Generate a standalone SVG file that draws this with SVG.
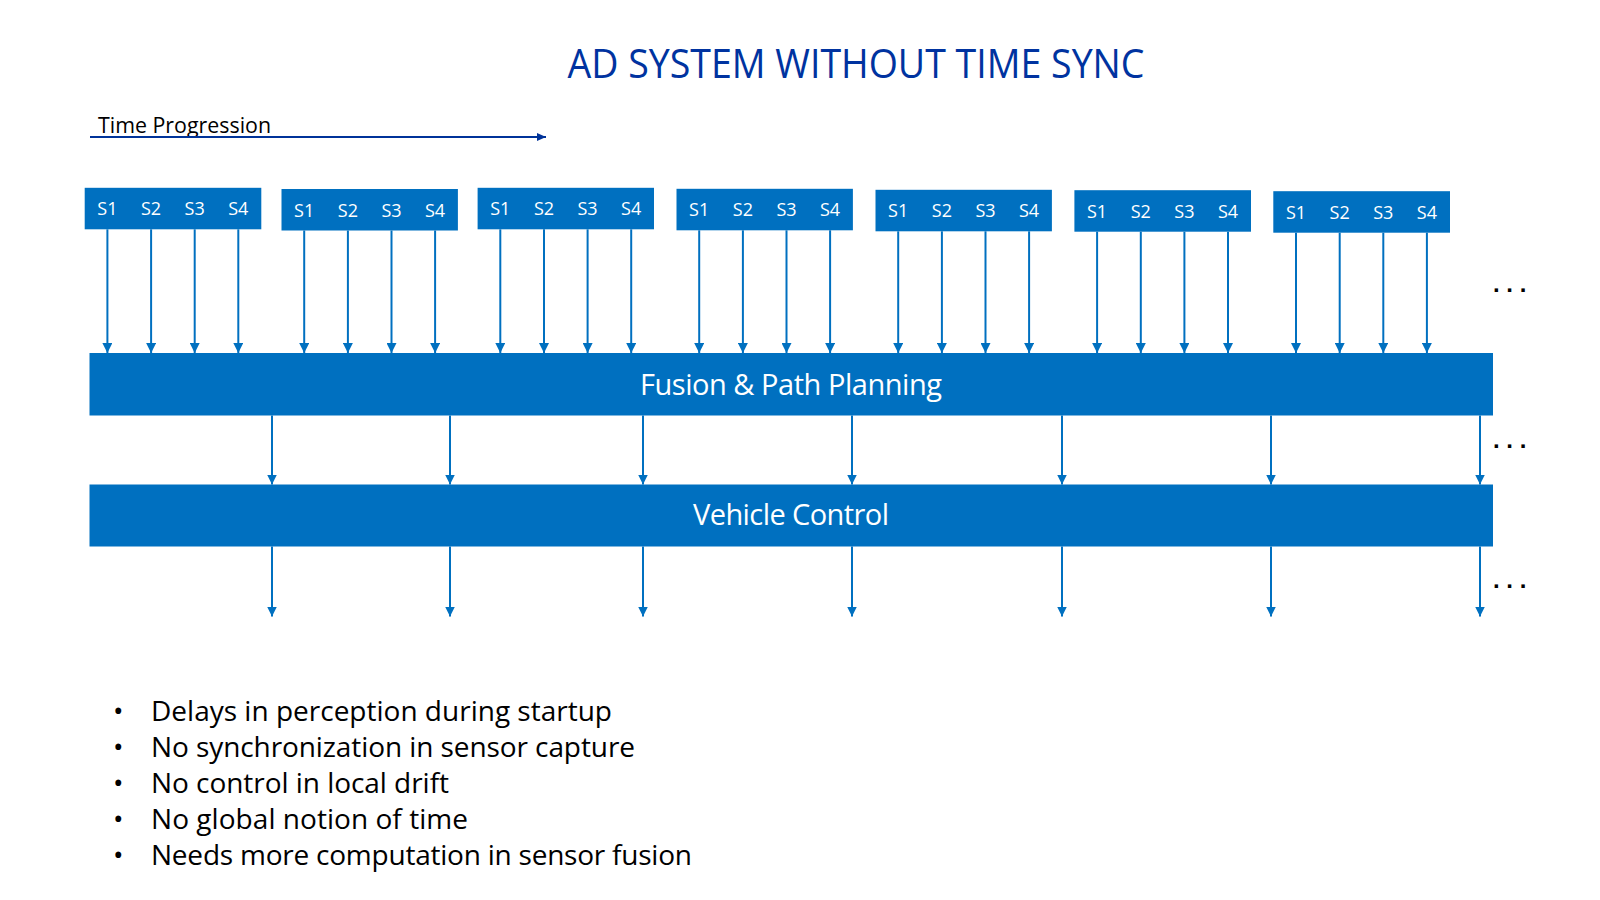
<svg xmlns="http://www.w3.org/2000/svg" width="1600" height="900" viewBox="0 0 1600 900">
<defs>
<marker id="ah" markerUnits="userSpaceOnUse" markerWidth="10" markerHeight="10" refX="10" refY="5" orient="auto">
<path d="M0,0 L10,5 L0,10 z" fill="#0070C0"/>
</marker>
<marker id="ahd" markerUnits="userSpaceOnUse" markerWidth="9" markerHeight="8" refX="9" refY="4" orient="auto">
<path d="M0,0 L9,4 L0,8 z" fill="#003399"/>
</marker>
<style>
.box{fill:#0070C0;}
.s{font-family:"Open Sans","Liberation Sans",sans-serif;font-size:18px;fill:#fff;text-anchor:middle;}
.big{font-family:"Open Sans","Liberation Sans",sans-serif;font-size:29px;fill:#fff;text-anchor:middle;}
.con{stroke:#0070C0;stroke-width:2;fill:none;marker-end:url(#ah);}
.bul{font-family:"Open Sans","Liberation Sans",sans-serif;font-size:28px;fill:#000;}
.dots{font-family:"Liberation Sans",sans-serif;font-size:24px;font-weight:bold;fill:#000;}
</style>
</defs>
<rect width="1600" height="900" fill="#fff"/>

<g id="title">
<text x="856" y="78" font-family="'Open Sans','Liberation Sans',sans-serif" font-size="41" fill="#0033A0" text-anchor="middle" textLength="577" lengthAdjust="spacingAndGlyphs">AD SYSTEM WITHOUT TIME SYNC</text>
</g>

<g id="time-progression">
<text x="98" y="133" font-family="'Open Sans','Liberation Sans',sans-serif" font-size="21" fill="#000" textLength="173" lengthAdjust="spacingAndGlyphs">Time Progression</text>
<line x1="90" y1="137" x2="546" y2="137" stroke="#003399" stroke-width="2" marker-end="url(#ahd)"/>
</g>

<g id="sensors-1">
<rect class="box" x="84.7" y="187.8" width="176.6" height="41.5"/>
<text class="s" x="107.4" y="215.3">S1</text><text class="s" x="151.1" y="215.3">S2</text><text class="s" x="194.7" y="215.3">S3</text><text class="s" x="238.3" y="215.3">S4</text>
</g>
<g id="sensors-2">
<rect class="box" x="281.5" y="189" width="176.4" height="41.5"/>
<text class="s" x="304.2" y="216.5">S1</text><text class="s" x="347.9" y="216.5">S2</text><text class="s" x="391.5" y="216.5">S3</text><text class="s" x="435.1" y="216.5">S4</text>
</g>
<g id="sensors-3">
<rect class="box" x="477.6" y="187.8" width="176.4" height="41.5"/>
<text class="s" x="500.3" y="215.3">S1</text><text class="s" x="544" y="215.3">S2</text><text class="s" x="587.6" y="215.3">S3</text><text class="s" x="631.2" y="215.3">S4</text>
</g>
<g id="sensors-4">
<rect class="box" x="676.5" y="188.8" width="176.4" height="41.5"/>
<text class="s" x="699.2" y="216.3">S1</text><text class="s" x="742.9" y="216.3">S2</text><text class="s" x="786.5" y="216.3">S3</text><text class="s" x="830.1" y="216.3">S4</text>
</g>
<g id="sensors-5">
<rect class="box" x="875.5" y="189.8" width="176.4" height="41.5"/>
<text class="s" x="898.2" y="217.3">S1</text><text class="s" x="941.9" y="217.3">S2</text><text class="s" x="985.5" y="217.3">S3</text><text class="s" x="1029.1" y="217.3">S4</text>
</g>
<g id="sensors-6">
<rect class="box" x="1074.4" y="190.2" width="176.6" height="41.5"/>
<text class="s" x="1097.1" y="217.7">S1</text><text class="s" x="1140.8" y="217.7">S2</text><text class="s" x="1184.4" y="217.7">S3</text><text class="s" x="1228" y="217.7">S4</text>
</g>
<g id="sensors-7">
<rect class="box" x="1273.3" y="191.2" width="176.7" height="41.5"/>
<text class="s" x="1296" y="218.7">S1</text><text class="s" x="1339.7" y="218.7">S2</text><text class="s" x="1383.3" y="218.7">S3</text><text class="s" x="1426.9" y="218.7">S4</text>
</g>

<g id="fusion">
<rect class="box" x="89.5" y="353" width="1403.5" height="62.5"/>
<text class="big" x="791" y="395" textLength="302">Fusion &amp; Path Planning</text>
</g>

<g id="vehicle-control">
<rect class="box" x="89.5" y="484.5" width="1403.5" height="62"/>
<text class="big" x="791" y="525" textLength="196">Vehicle Control</text>
</g>

<g id="connectors">
<line class="con" x1="107.4" y1="229.3" x2="107.4" y2="353"/>
<line class="con" x1="151.1" y1="229.3" x2="151.1" y2="353"/>
<line class="con" x1="194.7" y1="229.3" x2="194.7" y2="353"/>
<line class="con" x1="238.3" y1="229.3" x2="238.3" y2="353"/>
<line class="con" x1="304.2" y1="230.5" x2="304.2" y2="353"/>
<line class="con" x1="347.9" y1="230.5" x2="347.9" y2="353"/>
<line class="con" x1="391.5" y1="230.5" x2="391.5" y2="353"/>
<line class="con" x1="435.1" y1="230.5" x2="435.1" y2="353"/>
<line class="con" x1="500.3" y1="229.3" x2="500.3" y2="353"/>
<line class="con" x1="544" y1="229.3" x2="544" y2="353"/>
<line class="con" x1="587.6" y1="229.3" x2="587.6" y2="353"/>
<line class="con" x1="631.2" y1="229.3" x2="631.2" y2="353"/>
<line class="con" x1="699.2" y1="230.3" x2="699.2" y2="353"/>
<line class="con" x1="742.9" y1="230.3" x2="742.9" y2="353"/>
<line class="con" x1="786.5" y1="230.3" x2="786.5" y2="353"/>
<line class="con" x1="830.1" y1="230.3" x2="830.1" y2="353"/>
<line class="con" x1="898.2" y1="231.3" x2="898.2" y2="353"/>
<line class="con" x1="941.9" y1="231.3" x2="941.9" y2="353"/>
<line class="con" x1="985.5" y1="231.3" x2="985.5" y2="353"/>
<line class="con" x1="1029.1" y1="231.3" x2="1029.1" y2="353"/>
<line class="con" x1="1097.1" y1="231.7" x2="1097.1" y2="353"/>
<line class="con" x1="1140.8" y1="231.7" x2="1140.8" y2="353"/>
<line class="con" x1="1184.4" y1="231.7" x2="1184.4" y2="353"/>
<line class="con" x1="1228" y1="231.7" x2="1228" y2="353"/>
<line class="con" x1="1296" y1="232.7" x2="1296" y2="353"/>
<line class="con" x1="1339.7" y1="232.7" x2="1339.7" y2="353"/>
<line class="con" x1="1383.3" y1="232.7" x2="1383.3" y2="353"/>
<line class="con" x1="1426.9" y1="232.7" x2="1426.9" y2="353"/>

<line class="con" x1="272" y1="415.5" x2="272" y2="484.5"/>
<line class="con" x1="450" y1="415.5" x2="450" y2="484.5"/>
<line class="con" x1="643" y1="415.5" x2="643" y2="484.5"/>
<line class="con" x1="852" y1="415.5" x2="852" y2="484.5"/>
<line class="con" x1="1062" y1="415.5" x2="1062" y2="484.5"/>
<line class="con" x1="1271" y1="415.5" x2="1271" y2="484.5"/>
<line class="con" x1="1480" y1="415.5" x2="1480" y2="484.5"/>

<line class="con" x1="272" y1="546.5" x2="272" y2="616.5"/>
<line class="con" x1="450" y1="546.5" x2="450" y2="616.5"/>
<line class="con" x1="643" y1="546.5" x2="643" y2="616.5"/>
<line class="con" x1="852" y1="546.5" x2="852" y2="616.5"/>
<line class="con" x1="1062" y1="546.5" x2="1062" y2="616.5"/>
<line class="con" x1="1271" y1="546.5" x2="1271" y2="616.5"/>
<line class="con" x1="1480" y1="546.5" x2="1480" y2="616.5"/>
</g>

<g id="ellipses">
<text class="dots" x="1493" y="292">. . .</text>
<text class="dots" x="1493" y="448">. . .</text>
<text class="dots" x="1493" y="588">. . .</text>
</g>

<g id="bullets">
<text class="bul" x="113" y="721">•</text><text class="bul" x="151" y="721" textLength="461">Delays in perception during startup</text>
<text class="bul" x="113" y="757">•</text><text class="bul" x="151" y="757" textLength="484">No synchronization in sensor capture</text>
<text class="bul" x="113" y="793">•</text><text class="bul" x="151" y="793" textLength="298">No control in local drift</text>
<text class="bul" x="113" y="829">•</text><text class="bul" x="151" y="829" textLength="317">No global notion of time</text>
<text class="bul" x="113" y="865">•</text><text class="bul" x="151" y="865" textLength="541">Needs more computation in sensor fusion</text>
</g>
</svg>
